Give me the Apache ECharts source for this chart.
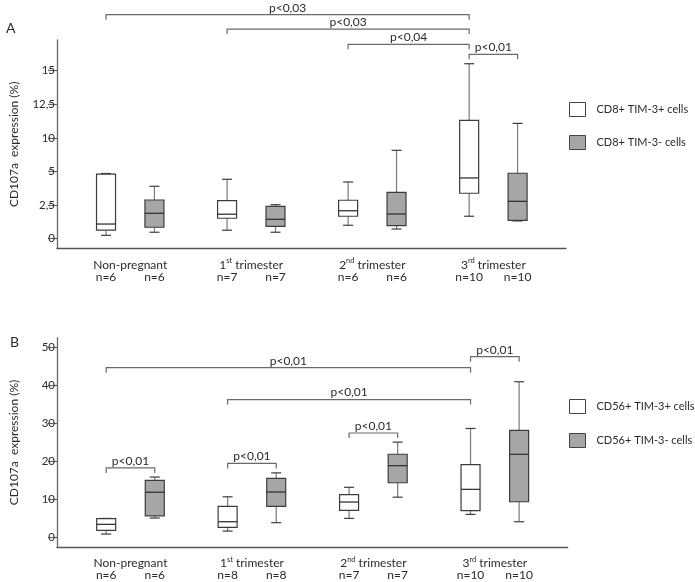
<!DOCTYPE html>
<html><head><meta charset="utf-8">
<script src="https://cdn.jsdelivr.net/npm/echarts@6/dist/echarts.min.js"></script>
<style>html,body{margin:0;padding:0;background:#fff}#c{width:695px;height:582px}</style>
</head><body><div id="c"></div>
<script>
// ---------- DATA ----------
const categories = ['Non-pregnant', '1st trimester', '2nd trimester', '3rd trimester'];

// Panel A (y axis is broken: ticks evenly spaced)
const aTickValues = [0, 2.5, 5, 10, 12.5, 15];
const aTickLabels = ['0', '2,5', '5', '10', '12,5', '15'];
const aSeriesNames = ['CD8+ TIM-3+ cells', 'CD8+ TIM-3- cells'];
// [min, Q1, median, Q3, max]
const aPos = [
  [0.25, 0.63, 1.09, 4.81, 4.85],
  [0.63, 1.52, 1.82, 2.83, 4.42],
  [1.00, 1.67, 2.08, 2.86, 4.22],
  [1.67, 3.38, 4.52, 11.3, 15.52]
];
const aNeg = [
  [0.48, 0.85, 1.89, 2.88, 3.90],
  [0.48, 0.92, 1.44, 2.41, 2.53],
  [0.72, 0.97, 1.84, 3.45, 8.15],
  [1.32, 1.37, 2.78, 4.87, 11.08]
];
const aN = [6, 7, 6, 10];
// [group1, box1, group2, box2, level, label]
const aBrackets = [
  [0, 0, 3, 0, 19.17, 'p<0,03'],
  [1, 0, 3, 0, 18.10, 'p<0,03'],
  [2, 0, 3, 0, 16.96, 'p<0,04'],
  [3, 0, 3, 1, 16.22, 'p<0,01']
];

// Panel B
const bTickValues = [0, 10, 20, 30, 40, 50];
const bTickLabels = ['0', '10', '20', '30', '40', '50'];
const bSeriesNames = ['CD56+ TIM-3+ cells', 'CD56+ TIM-3- cells'];
const bPos = [
  [0.79, 1.76, 3.34, 4.83, 4.90],
  [1.58, 2.55, 4.04, 8.08, 10.6],
  [4.92, 7.00, 9.22, 11.15, 13.1],
  [5.97, 6.94, 12.56, 19.06, 28.6]
];
const bNeg = [
  [5.00, 5.60, 11.8, 14.9, 15.8],
  [3.78, 8.08, 11.86, 15.46, 16.9],
  [10.5, 14.3, 18.8, 21.8, 25.0],
  [4.03, 9.30, 21.8, 28.1, 40.9]
];
const bN = [6, 8, 7, 10];
const bBrackets = [
  [0, 0, 3, 0, 44.6, 'p<0,01'],
  [1, 0, 3, 0, 36.2, 'p<0,01'],
  [0, 0, 0, 1, 18.2, 'p<0,01'],
  [1, 0, 1, 1, 19.4, 'p<0,01'],
  [2, 0, 2, 1, 27.4, 'p<0,01'],
  [3, 0, 3, 1, 47.5, 'p<0,01']
];
const yTitle = 'CD107a  expression (%)';

// ---------- helpers ----------
const FONT = 'Lato';
const TXT = '#2b2b2b';
const BOX_OFF = 0.2;

function makeMapper(ticks) {
  // value -> evenly spaced tick position (piecewise linear, for the broken axis of panel A)
  return function (v) {
    const n = ticks.length;
    if (v <= ticks[0]) return (v - ticks[0]) / (ticks[1] - ticks[0]);
    for (let i = 1; i < n; i++) {
      if (v <= ticks[i]) return (i - 1) + (v - ticks[i - 1]) / (ticks[i] - ticks[i - 1]);
    }
    return (n - 1) + (v - ticks[n - 1]) / (ticks[n - 1] - ticks[n - 2]);
  };
}
const mapA = makeMapper(aTickValues);
const mapB = v => v; // panel B axis is linear

function boxData(stats, nArr, side, map) {
  return stats.map((s, i) => [i + (side ? BOX_OFF : -BOX_OFF)].concat(s.map(map)).concat([nArr[i]]));
}
function bracketData(list, map) {
  return list.map(b => [b[0] + (b[1] ? BOX_OFF : -BOX_OFF), b[2] + (b[3] ? BOX_OFF : -BOX_OFF), map(b[4]), b[5]]);
}

function boxRenderer(fill, yMin) {
  return function (params, api) {
    const x = api.value(0);
    const pMin = api.coord([x, api.value(1)]);
    const pQ1 = api.coord([x, api.value(2)]);
    const pMed = api.coord([x, api.value(3)]);
    const pQ3 = api.coord([x, api.value(4)]);
    const pMax = api.coord([x, api.value(5)]);
    const base = api.coord([x, yMin]);
    const cx = pMed[0], hw = 9.5, cw = 5;
    const wh = { stroke: '#7a7a7a', lineWidth: 1.2 };
    const dk = { stroke: '#3c3c3c', lineWidth: 1.2 };
    return {
      type: 'group',
      children: [
        { type: 'line', shape: { x1: cx, y1: pQ3[1], x2: cx, y2: pMax[1] }, style: wh },
        { type: 'line', shape: { x1: cx, y1: pQ1[1], x2: cx, y2: pMin[1] }, style: wh },
        { type: 'line', shape: { x1: cx - cw, y1: pMax[1], x2: cx + cw, y2: pMax[1] }, style: dk },
        { type: 'line', shape: { x1: cx - cw, y1: pMin[1], x2: cx + cw, y2: pMin[1] }, style: dk },
        { type: 'rect', shape: { x: cx - hw, y: pQ3[1], width: hw * 2, height: pQ1[1] - pQ3[1] },
          style: { fill: fill, stroke: '#3c3c3c', lineWidth: 1.2 } },
        { type: 'line', shape: { x1: cx - hw, y1: pMed[1], x2: cx + hw, y2: pMed[1] }, style: { stroke: '#333', lineWidth: 1.3 } },
        { type: 'text', x: cx, y: base[1] + 28,
          style: { text: 'n=' + api.value(6), fill: TXT, font: '12px "' + FONT + '"', align: 'center', verticalAlign: 'middle' } }
      ]
    };
  };
}

function bracketRenderer(params, api) {
  const p1 = api.coord([api.value(0), api.value(2)]);
  const p2 = api.coord([api.value(1), api.value(2)]);
  const t = 5;
  return {
    type: 'group',
    children: [
      { type: 'polyline', shape: { points: [[p1[0], p1[1] + t], [p1[0], p1[1]], [p2[0], p1[1]], [p2[0], p1[1] + t]] },
        style: { stroke: '#6a6a6a', lineWidth: 1.2, fill: null } },
      { type: 'text', x: (p1[0] + p2[0]) / 2, y: p1[1] - 7,
        style: { text: api.value(3), fill: TXT, font: '12px "' + FONT + '"', align: 'center', verticalAlign: 'middle' } }
    ]
  };
}

function catFormatter(v) {
  const c = categories[Math.round(v)] || '';
  const m = c.match(/^(\d)(st|nd|rd)(.*)$/);
  if (m) return '{n|' + m[1] + '}{sup|' + m[2] + '}{n|' + m[3] + '}';
  return '{n|' + c + '}';
}

function xAxisCfg(gi) {
  return {
    type: 'value', gridIndex: gi, min: -0.605, max: 3.6,
    axisLine: { show: true, onZero: false, lineStyle: { color: '#555', width: 1.3 } },
    axisTick: { show: false }, splitLine: { show: false },
    axisLabel: {
      customValues: [0, 1, 2, 3], margin: 8, formatter: catFormatter,
      rich: {
        n: { fontFamily: FONT, fontSize: 12, color: TXT, lineHeight: 14, verticalAlign: 'bottom' },
        sup: { fontFamily: FONT, fontSize: 7.5, color: TXT, lineHeight: 14, verticalAlign: 'top', padding: [0, 0, 4, 0] }
      }
    }
  };
}
function yAxisCfg(gi, min, max, tickPos, labels) {
  return {
    type: 'value', gridIndex: gi, min: min, max: max,
    name: yTitle, nameLocation: 'middle', nameGap: 37,
    nameTextStyle: { fontFamily: FONT, fontSize: 12, color: TXT },
    axisLine: { show: true, onZero: false, lineStyle: { color: '#666', width: 1.3 } },
    axisTick: { show: true, customValues: tickPos, length: 9, lineStyle: { color: '#666', width: 1.2 } },
    splitLine: { show: false },
    axisLabel: { customValues: tickPos, margin: 2, fontFamily: FONT, fontSize: 11.5, color: TXT,
      formatter: v => labels[tickPos.indexOf(v)] }
  };
}

const chart = echarts.init(document.getElementById('c'), null, { renderer: 'canvas' });
const aYMin = -0.298, aYMax = 5.914;
const bYMin = -2.7, bYMax = 52.5;
const aTickPos = aTickValues.map(mapA);
const bTickPos = bTickValues.map(mapB);

function legendCfg(names, top, gap) {
  return {
    orient: 'vertical', left: 569, top: top, padding: 0, itemGap: gap,
    itemWidth: 16, itemHeight: 14, selectedMode: false,
    textStyle: { fontFamily: FONT, fontSize: 11, color: TXT, padding: [0, 0, 0, 6] },
    data: [
      { name: names[0], icon: 'rect', itemStyle: { color: '#fff', borderColor: '#444', borderWidth: 1 } },
      { name: names[1], icon: 'rect', itemStyle: { color: '#a6a6a6', borderColor: '#444', borderWidth: 1 } }
    ]
  };
}

chart.setOption({
  animation: false,
  backgroundColor: '#fff',
  grid: [
    { left: 47, top: 40, width: 519, height: 208.7 },
    { left: 48, top: 337.7, width: 519.7, height: 209.6 }
  ],
  xAxis: [xAxisCfg(0), xAxisCfg(1)],
  yAxis: [
    yAxisCfg(0, aYMin, aYMax, aTickPos, aTickLabels),
    yAxisCfg(1, bYMin, bYMax, bTickPos, bTickLabels)
  ],
  legend: [legendCfg(aSeriesNames, 102, 18), legendCfg(bSeriesNames, 399, 19)],
  graphic: [
    { type: 'text', left: 6, top: 21, style: { text: 'A', font: '14px "' + FONT + '"', fill: TXT } },
    { type: 'text', left: 10, top: 335, style: { text: 'B', font: '14px "' + FONT + '"', fill: TXT } }
  ],
  series: [
    { type: 'custom', name: aSeriesNames[0], xAxisIndex: 0, yAxisIndex: 0, data: boxData(aPos, aN, 0, mapA),
      encode: { x: 0, y: [1, 2, 3, 4, 5] }, renderItem: boxRenderer('#ffffff', aYMin),
      itemStyle: { color: '#fff', borderColor: '#444' } },
    { type: 'custom', name: aSeriesNames[1], xAxisIndex: 0, yAxisIndex: 0, data: boxData(aNeg, aN, 1, mapA),
      encode: { x: 0, y: [1, 2, 3, 4, 5] }, renderItem: boxRenderer('#a6a6a6', aYMin),
      itemStyle: { color: '#a6a6a6', borderColor: '#444' } },
    { type: 'custom', name: 'bracketsA', xAxisIndex: 0, yAxisIndex: 0, data: bracketData(aBrackets, mapA),
      encode: { x: [0, 1], y: 2 }, renderItem: bracketRenderer },
    { type: 'custom', name: bSeriesNames[0], xAxisIndex: 1, yAxisIndex: 1, data: boxData(bPos, bN, 0, mapB),
      encode: { x: 0, y: [1, 2, 3, 4, 5] }, renderItem: boxRenderer('#ffffff', bYMin),
      itemStyle: { color: '#fff', borderColor: '#444' } },
    { type: 'custom', name: bSeriesNames[1], xAxisIndex: 1, yAxisIndex: 1, data: boxData(bNeg, bN, 1, mapB),
      encode: { x: 0, y: [1, 2, 3, 4, 5] }, renderItem: boxRenderer('#a6a6a6', bYMin),
      itemStyle: { color: '#a6a6a6', borderColor: '#444' } },
    { type: 'custom', name: 'bracketsB', xAxisIndex: 1, yAxisIndex: 1, data: bracketData(bBrackets, mapB),
      encode: { x: [0, 1], y: 2 }, renderItem: bracketRenderer }
  ]
});
</script></body></html>
